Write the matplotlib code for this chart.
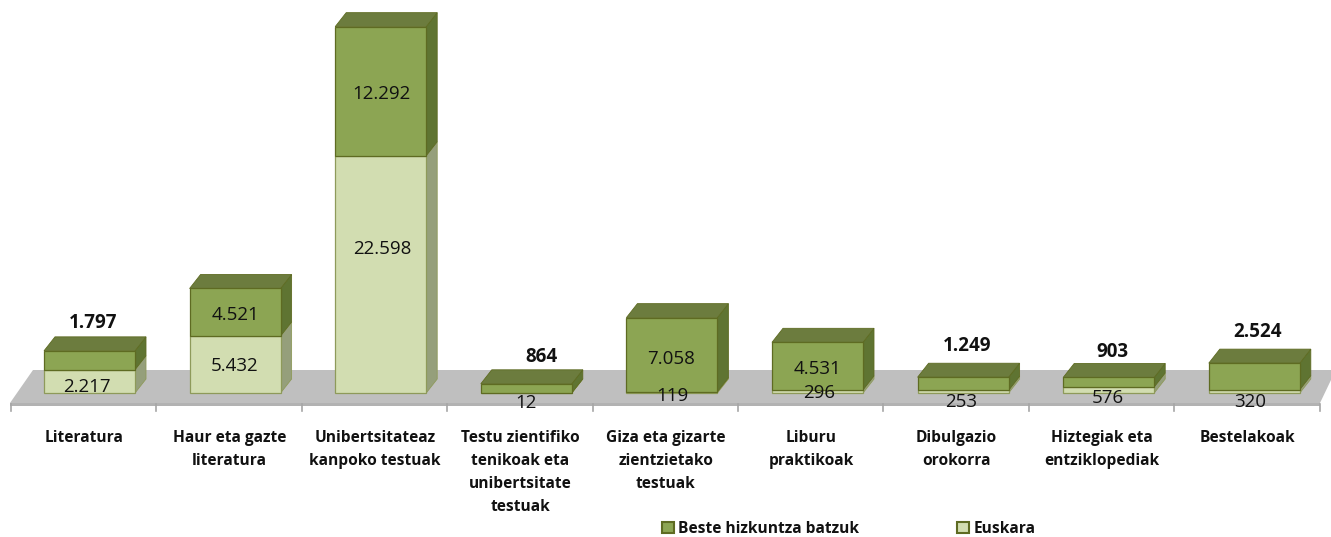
import matplotlib
matplotlib.use("Agg")
import matplotlib.pyplot as plt
from matplotlib.patches import Polygon, Patch
from matplotlib.transforms import Affine2D

categories = ["Literatura", "Haur eta gazte\nliteratura", "Unibertsitateaz\nkanpoko testuak",
              "Testu zientifiko\ntenikoak eta\nunibertsitate\ntestuak", "Giza eta gizarte\nzientzietako\ntestuak",
              "Liburu\npraktikoak", "Dibulgazio\norokorra", "Hiztegiak eta\nentziklopediak", "Bestelakoak"]
euskara = [2217, 5432, 22598, 12, 119, 296, 253, 576, 320]
beste = [1797, 4521, 12292, 864, 7058, 4531, 1249, 903, 2524]
euskara_labels = ["2.217", "5.432", "22.598", "12", "119", "296", "253", "576", "320"]
beste_labels = ["1.797", "4.521", "12.292", "864", "7.058", "4.531", "1.249", "903", "2.524"]
beste_inside = [False, True, True, False, True, True, False, False, False]

W, H = 1331, 537
PX_X, X0 = 145.6, 89.5
PX_Y, Y0 = 0.0105, 393.0
DX, DY = 11 / PX_X, 14 / PX_Y
BAR_W = 91 / PX_X
FONT = ["Open Sans", "DejaVu Sans"]
DARK, DARK_TOP, DARK_SIDE = "#8CA553", "#6C7C3E", "#5F7432"
LIGHT, LIGHT_TOP, LIGHT_SIDE = "#D2DDB1", "#A9B58A", "#959F7B"
EDGE_D, EDGE_L = "#5E6B22", "#8E9A5A"

fig = plt.figure(figsize=(W / 100, H / 100), dpi=100)
ax = fig.add_axes([0, 0, 1, 1])
ax.set_xlim(-X0 / PX_X, (W - X0) / PX_X)
ax.set_ylim(-(H - Y0) / PX_Y, Y0 / PX_Y)
ax.axis("off")
pix = Affine2D().scale(1, -1).translate(0, H)

# floor
ax.add_patch(Polygon([(33, 370), (1331, 370), (1331, 380), (1320, 403), (10, 403)], closed=True,
                     fc="#BFBFBF", ec="none", transform=pix, zorder=1))
ax.add_patch(Polygon([(10, 403), (1320, 403), (1320, 406), (10, 406)], closed=True,
                     fc="#B2B2B2", ec="none", transform=pix, zorder=1))
for i in range(10):
    px = 11 + 145.4 * i
    ax.plot([px, px], [404, 411], color="#A6A6A6", lw=1.2, transform=pix, zorder=1)

xs = list(range(len(categories)))
for x, a, b in zip(xs, euskara, beste):
    l, r = x - BAR_W / 2, x + BAR_W / 2
    t = a + b
    ax.add_patch(Polygon([(r, 0), (r + DX, DY), (r + DX, a + DY), (r, a)], fc=LIGHT_SIDE, ec=EDGE_L, lw=0.6, zorder=2))
    ax.add_patch(Polygon([(r, a), (r + DX, a + DY), (r + DX, t + DY), (r, t)], fc=DARK_SIDE, ec=EDGE_D, lw=0.6, zorder=2))
    ax.add_patch(Polygon([(l, t), (l + DX, t + DY), (r + DX, t + DY), (r, t)], fc=DARK_TOP, ec=EDGE_D, lw=0.6, zorder=2))
ax.bar(xs, euskara, width=BAR_W, color=LIGHT, edgecolor=EDGE_L, linewidth=0.9, zorder=3)
ax.bar(xs, beste, bottom=euskara, width=BAR_W, color=DARK, edgecolor=EDGE_D, linewidth=0.9, zorder=3)

# value labels, pixel positions
a_pos = [(87, 387), (235, 366), (382, 249), (526, 403), (672, 396), (819, 393), (961, 402), (1108, 398), (1250, 402)]
b_pos = [(93, 323), (235, 315), (381, 94), (541, 357), (671, 359), (818, 369), (967, 346), (1112, 352), (1258, 332)]
for (p, s) in zip(a_pos, euskara_labels):
    ax.text(p[0], p[1], s, transform=pix, ha="center", va="center", fontsize=13.5, family=FONT, color="#111111", zorder=5)
for (p, s, inside) in zip(b_pos, beste_labels, beste_inside):
    ax.text(p[0], p[1], s, transform=pix, ha="center", va="center", fontsize=13.5, family=FONT, color="#111111",
            fontweight="normal" if inside else "bold", zorder=5)

# category labels
for i, c in enumerate(categories):
    ax.text(84 + 145.4 * i, 430, c, transform=pix, ha="center", va="top", fontsize=11.2, family=FONT,
            fontweight="bold", linespacing=1.58, color="#111111")

handles = [Patch(fc=DARK, ec=EDGE_D, lw=1.5, label="Beste hizkuntza batzuk"),
           Patch(fc=LIGHT, ec=EDGE_D, lw=1.5, label="Euskara")]
leg = ax.legend(handles=handles, ncol=2, loc="center left", bbox_to_anchor=(662 / W, 1 - 529 / H),
                bbox_transform=fig.transFigure, frameon=False, handlelength=0.75, handleheight=0.75,
                handletextpad=0.3, columnspacing=6.3, borderpad=0, borderaxespad=0,
                prop={"family": FONT, "size": 11.2, "weight": "bold"})
for t in leg.get_texts():
    t.set_color("#111111")

fig.savefig("out.png", dpi=100)
